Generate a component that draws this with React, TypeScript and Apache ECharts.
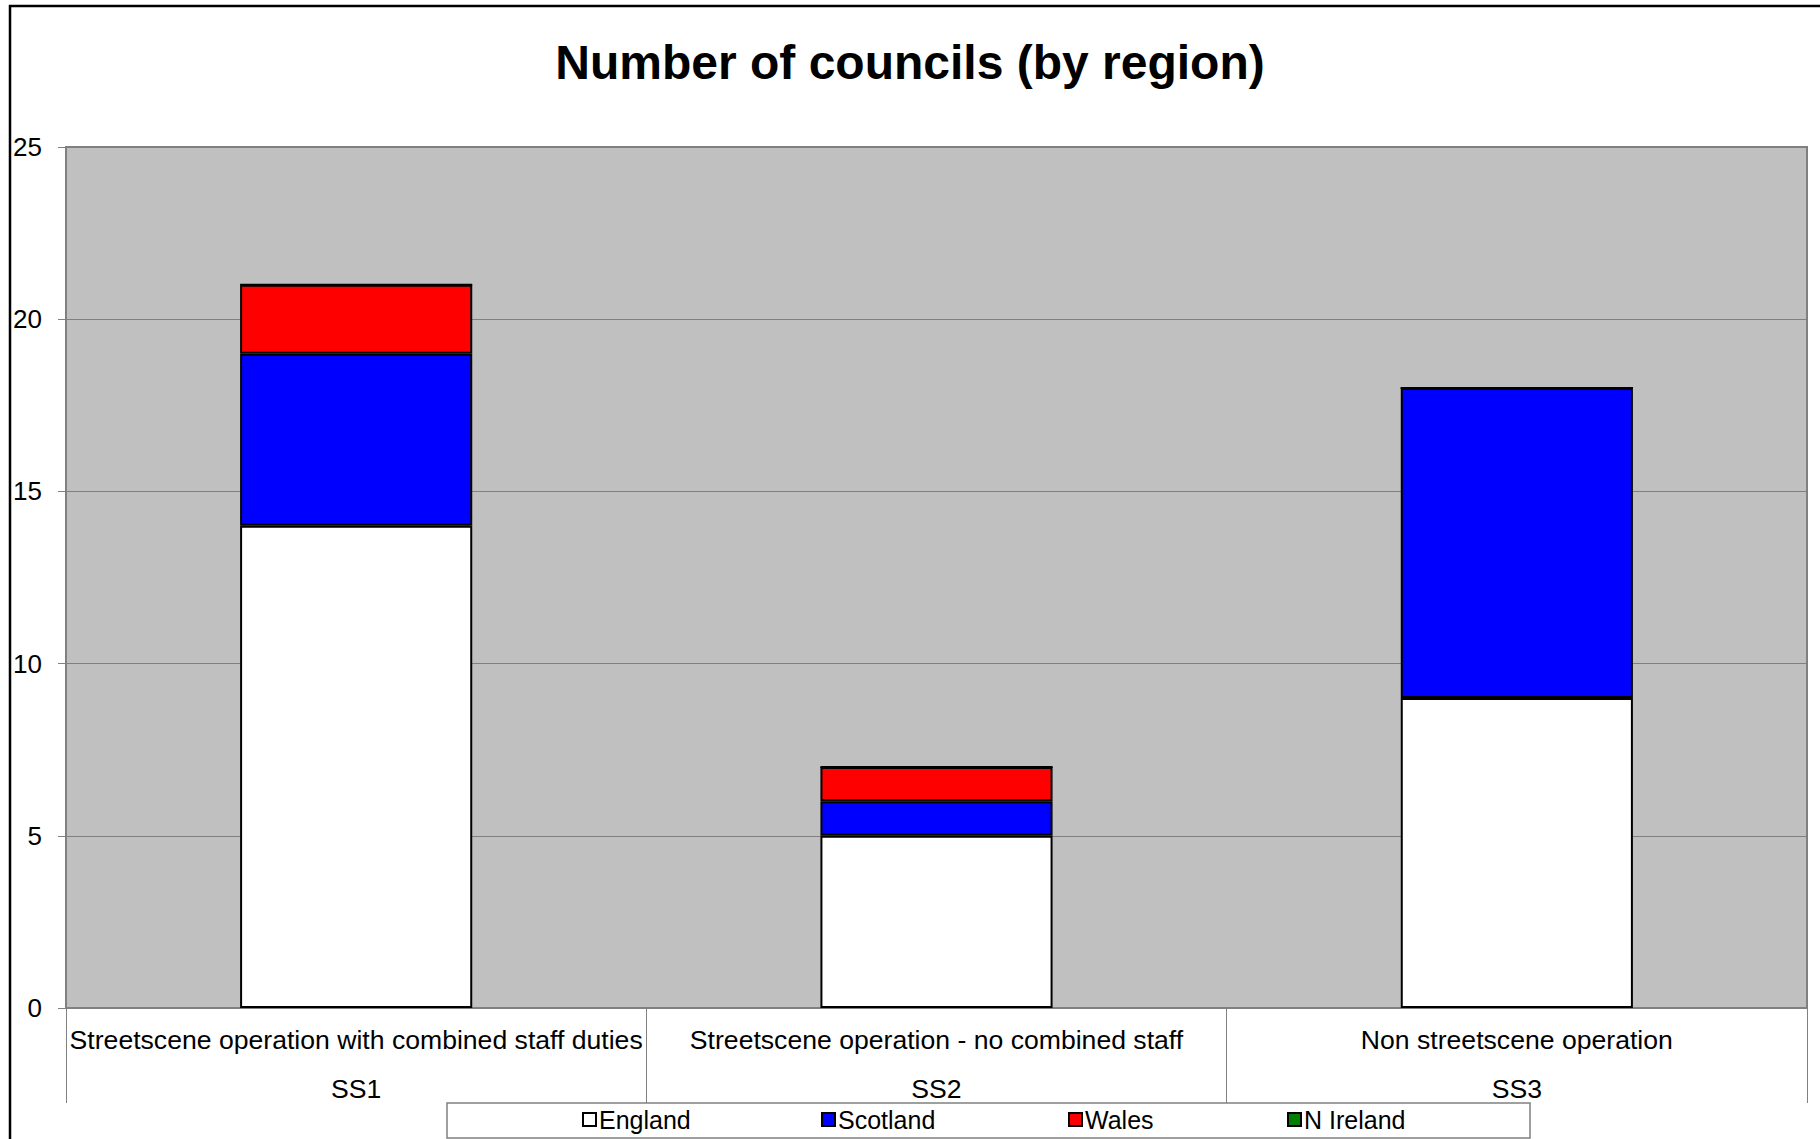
import React, { useEffect, useRef } from "react";
import * as echarts from "echarts";

const categories = [
  "Streetscene operation with combined staff duties",
  "Streetscene operation - no combined staff",
  "Non streetscene operation",
];
const codes = ["SS1", "SS2", "SS3"];
const seriesNames = ["England", "Scotland", "Wales", "N Ireland"];
const england = [14, 5, 9];
const scotland = [5, 1, 9];
const wales = [2, 1, 0];
const nIreland = [0, 0, 0];
const seriesColors = ["#FFFFFF", "#0000FF", "#FF0000", "#008000"];
const yMin = 0;
const yMax = 25;
const yInterval = 5;
const legendLefts = [582, 821, 1068, 1287];

const FONT = "'Liberation Sans', Arial, sans-serif";

export default function App() {
  const ref = useRef<HTMLDivElement>(null);
  useEffect(() => {
    if (!ref.current) return;
    const chart = echarts.init(ref.current, null, { renderer: "svg" });
    const values = [england, scotland, wales, nIreland];
    const option: any = {
      animation: false,
      backgroundColor: "#FFFFFF",
      textStyle: { fontFamily: FONT },
      title: {
        text: "Number of councils (by region)",
        left: "center",
        top: 33,
        textStyle: { fontFamily: FONT, fontSize: 48, fontWeight: "bold", color: "#000" },
      },
      grid: {
        left: 66,
        right: 13,
        top: 147,
        bottom: 131,
        show: true,
        backgroundColor: "#C0C0C0",
        borderColor: "#808080",
        borderWidth: 2,
        containLabel: false,
      },
      legend: seriesNames.map((n, i) => ({
        data: [n],
        left: legendLefts[i],
        top: 1107,
        padding: 0,
        itemWidth: 13,
        itemHeight: 13,
        itemGap: 0,
        icon: "rect",
        selectedMode: false,
        itemStyle: { borderColor: "#000", borderWidth: 2 },
        textStyle: { fontFamily: FONT, fontSize: 25, color: "#000", padding: [0, 0, 0, -2] },
      })),
      graphic: [
        {
          type: "rect",
          z: -10,
          silent: true,
          shape: { x: 10, y: 6, width: 1840, height: 1160 },
          style: { fill: "none", stroke: "#000", lineWidth: 2.5 },
        },
        {
          type: "rect",
          z: 0,
          silent: true,
          shape: { x: 447, y: 1103, width: 1083, height: 35 },
          style: { fill: "#FFFFFF", stroke: "#808080", lineWidth: 1.5 },
        },
      ],
      xAxis: [
        {
          type: "category",
          data: categories,
          position: "bottom",
          offset: 0,
          axisLine: { show: true, lineStyle: { color: "#808080", width: 2 } },
          axisTick: { show: true, length: 95, lineStyle: { color: "#808080", width: 1 } },
          axisLabel: { margin: 18, fontSize: 26.6, color: "#000", fontFamily: FONT, interval: 0 },
          splitLine: { show: false },
        },
        {
          type: "category",
          data: codes,
          position: "bottom",
          offset: 0,
          axisLine: { show: false },
          axisTick: { show: false },
          axisLabel: { margin: 67, fontSize: 26.6, color: "#000", fontFamily: FONT, interval: 0 },
          splitLine: { show: false },
        },
      ],
      yAxis: {
        type: "value",
        min: yMin,
        max: yMax,
        interval: yInterval,
        axisLine: { show: true, lineStyle: { color: "#808080", width: 2 } },
        axisTick: { show: true, length: 8, lineStyle: { color: "#808080", width: 1 } },
        axisLabel: { margin: 24, fontSize: 26, color: "#000", fontFamily: FONT },
        splitLine: { show: true, lineStyle: { color: "#808080", width: 1 } },
      },
      series: seriesNames.map((n, i) => ({
        name: n,
        type: "bar",
        stack: "total",
        xAxisIndex: 0,
        barWidth: "40%",
        data: values[i],
        itemStyle: { color: seriesColors[i], borderColor: "#000", borderWidth: 2 },
      })),
    };
    chart.setOption(option);
    return () => chart.dispose();
  }, []);
  return (
    <div
      ref={ref}
      style={{ position: "fixed", left: 0, top: 0, width: 1820, height: 1139 }}
    />
  );
}
